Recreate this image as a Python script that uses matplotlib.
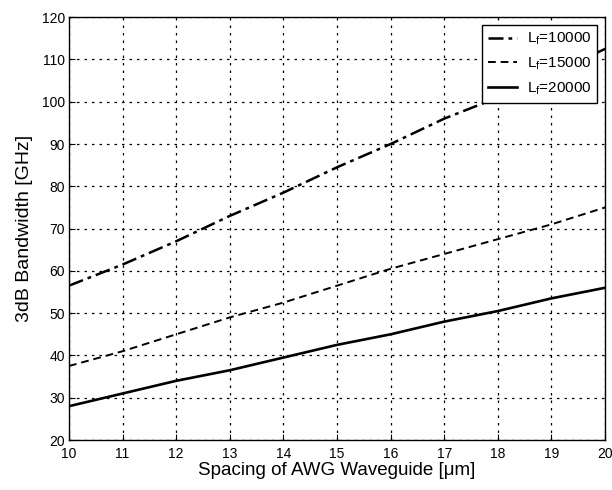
import matplotlib
matplotlib.use('Agg')
import matplotlib.pyplot as plt

plt.rcParams['font.family'] = ['Liberation Sans', 'DejaVu Sans']
plt.rcParams['mathtext.fontset'] = 'custom'
plt.rcParams['mathtext.rm'] = 'Liberation Sans'
plt.rcParams['mathtext.it'] = 'Liberation Sans'

# spacing of AWG waveguide [um]
spacing = [10, 11, 12, 13, 14, 15, 16, 17, 18, 19, 20]
# 3dB bandwidth [GHz] for each focal length
bw_10000 = [56.5, 61.5, 67, 73, 78.5, 84.5, 90, 96, 101, 106.5, 112.5]
bw_15000 = [37.5, 41, 45, 49, 52.5, 56.5, 60.5, 64, 67.5, 71, 75]
bw_20000 = [28, 31, 34, 36.5, 39.5, 42.5, 45, 48, 50.5, 53.5, 56]

fig = plt.figure(figsize=(6.12, 4.9), dpi=100)
ax = fig.add_axes([0.1127, 0.102, 0.876, 0.863])

ax.plot(spacing, bw_10000, color='black', linestyle=(0, (6, 2, 1.5, 2)), lw=1.8,
        label=r'L$_{\mathrm{f}}$=10000')
ax.plot(spacing, bw_15000, color='black', linestyle=(0, (4, 2.5)), lw=1.4,
        label=r'L$_{\mathrm{f}}$=15000')
ax.plot(spacing, bw_20000, color='black', linestyle='-', lw=1.9,
        label=r'L$_{\mathrm{f}}$=20000')

ax.set_xlim(10, 20)
ax.set_ylim(20, 120)
ax.set_xticks(range(10, 21))
ax.set_yticks(range(20, 121, 10))
ax.grid(True, color='black', linestyle=(0, (2, 4)), lw=0.9)
for s in ax.spines.values():
    s.set_linewidth(1.0)
ax.tick_params(direction='in', length=4, labelsize=10, colors='black')
ax.tick_params(axis='x', pad=5)
ax.tick_params(axis='y', pad=3)
ax.set_xlabel('Spacing of AWG Waveguide [\u03bcm]', fontsize=13.5, labelpad=1)
ax.set_ylabel('3dB Bandwidth [GHz]', fontsize=14, labelpad=6)

leg = ax.legend(loc='upper right', fontsize=11, fancybox=False, framealpha=1,
                edgecolor='black', handlelength=1.85, handletextpad=0.65,
                labelspacing=0.55, borderaxespad=0.5)
leg.get_frame().set_linewidth(1.0)

plt.savefig('out.png', dpi=100)
